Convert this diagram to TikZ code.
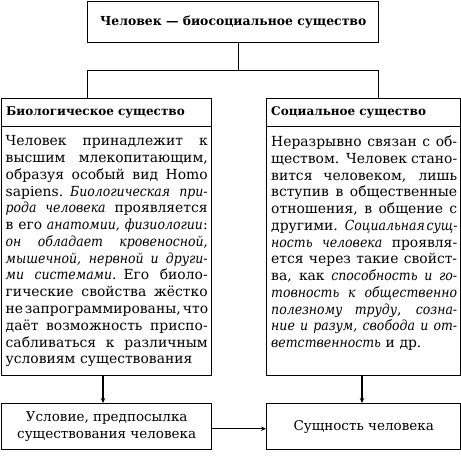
\documentclass[tikz,border=0pt]{standalone}
\usepackage{fontspec}
\setmainfont{DejaVu Serif}[ItalicFeatures={FakeStretch=0.9}]
\usetikzlibrary{arrows.meta}
\newlength\lw \setlength\lw{202pt}
\newlength\rw \setlength\rw{186pt}
\newcommand\jline[2]{\makebox[#1][s]{\spaceskip=0.32em plus 1fil minus 0.2em\relax #2}\\}
\begin{document}
\begin{tikzpicture}[x=1pt,y=-1pt,
  box/.style={draw, line width=1.4pt, inner sep=0pt, anchor=north west},
  hdr/.style={box, inner xsep=4.5pt, align=left, font=\bfseries\fontsize{12}{15}\selectfont},
  conn/.style={line width=0.8pt},
  arr/.style={line width=1.1pt, -{Stealth[length=5pt,width=4.5pt]}},
  body/.style={inner sep=0pt, anchor=north west, align=left, font=\fontsize{13.9}{16.77}\selectfont},
  lower/.style={box, align=center, font=\fontsize{13.5}{17}\selectfont},
]
\useasboundingbox (0,0) rectangle (461,456);

\node[box, minimum width=291pt, minimum height=41pt, font=\bfseries\fontsize{12.4}{15}\selectfont] (top) at (87,1) {Человек — биосоциальное существо};

\node[hdr, minimum width=210pt, minimum height=28pt, text width=201pt] (bioh) at (1,98) {Биологическое существо};
\node[box, minimum width=210pt, minimum height=249pt] (bio) at (1,126) {};
\node[hdr, minimum width=194pt, minimum height=28pt, text width=185pt] (soch) at (266,98) {Социальное существо};
\node[box, minimum width=194pt, minimum height=249pt] (soc) at (266,126) {};

\node[body, text width=\lw] (biotext) at (5.5,135.5) {\noindent
\jline{\lw}{Человек принадлежит к}
\jline{\lw}{высшим млекопитающим,}
\jline{\lw}{образуя особый вид Homo}
\jline{\lw}{sapiens. \textit{Биологическая при-}}
\jline{\lw}{\textit{рода человека} проявляется}
\jline{\lw}{в его \textit{анатомии, физиологии}:}
\jline{\lw}{\textit{он обладает кровеносной,}}
\jline{\lw}{\textit{мышечной, нервной и други-}}
\jline{\lw}{\textit{ми системами}. Его биоло-}
\jline{\lw}{гические свойства жёстко}
\jline{\lw}{не запрограммированы, что}
\jline{\lw}{даёт возможность приспо-}
\jline{\lw}{сабливаться к различным}
условиям существования};

\node[body, text width=\rw] (soctext) at (271,135.5) {\noindent
\jline{\rw}{Неразрывно связан с об-}
\jline{\rw}{ществом. Человек стано-}
\jline{\rw}{вится человеком, лишь}
\jline{\rw}{вступив в общественные}
\jline{\rw}{отношения, в общение с}
\jline{\rw}{другими. \textit{Социальная сущ-}}
\jline{\rw}{\textit{ность человека} проявля-}
\jline{\rw}{ется через такие свойст-}
\jline{\rw}{ва, как \textit{способность и го-}}
\jline{\rw}{\textit{товность к общественно}}
\jline{\rw}{\textit{полезному труду}, \textit{созна-}}
\jline{\rw}{\textit{ние и разум, свобода и от-}}
\textit{ветственность} и др.};

\node[lower, minimum width=210pt, minimum height=46pt] (cond) at (1,403) {Условие, предпосылка\\существования человека};
\node[lower, minimum width=194pt, minimum height=46pt] (ess) at (266,403) {Сущность человека};

\coordinate (jn) at (238,70);
\coordinate (jl) at (87,70);
\coordinate (jr) at (378,70);
\draw[conn] (jn |- top.south) -- (jn);
\draw[conn] (jl |- bioh.north) -- (jl) -- (jr) -- (jr |- soch.north);
\coordinate (al) at (103,0);
\coordinate (ar) at (362,0);
\draw[arr] (al |- bio.south) -- (al |- cond.north);
\draw[arr] (ar |- soc.south) -- (ar |- ess.north);
\draw[arr] ([yshift=-2pt]cond.east) -- ([yshift=-2pt]ess.west);
\end{tikzpicture}
\end{document}
